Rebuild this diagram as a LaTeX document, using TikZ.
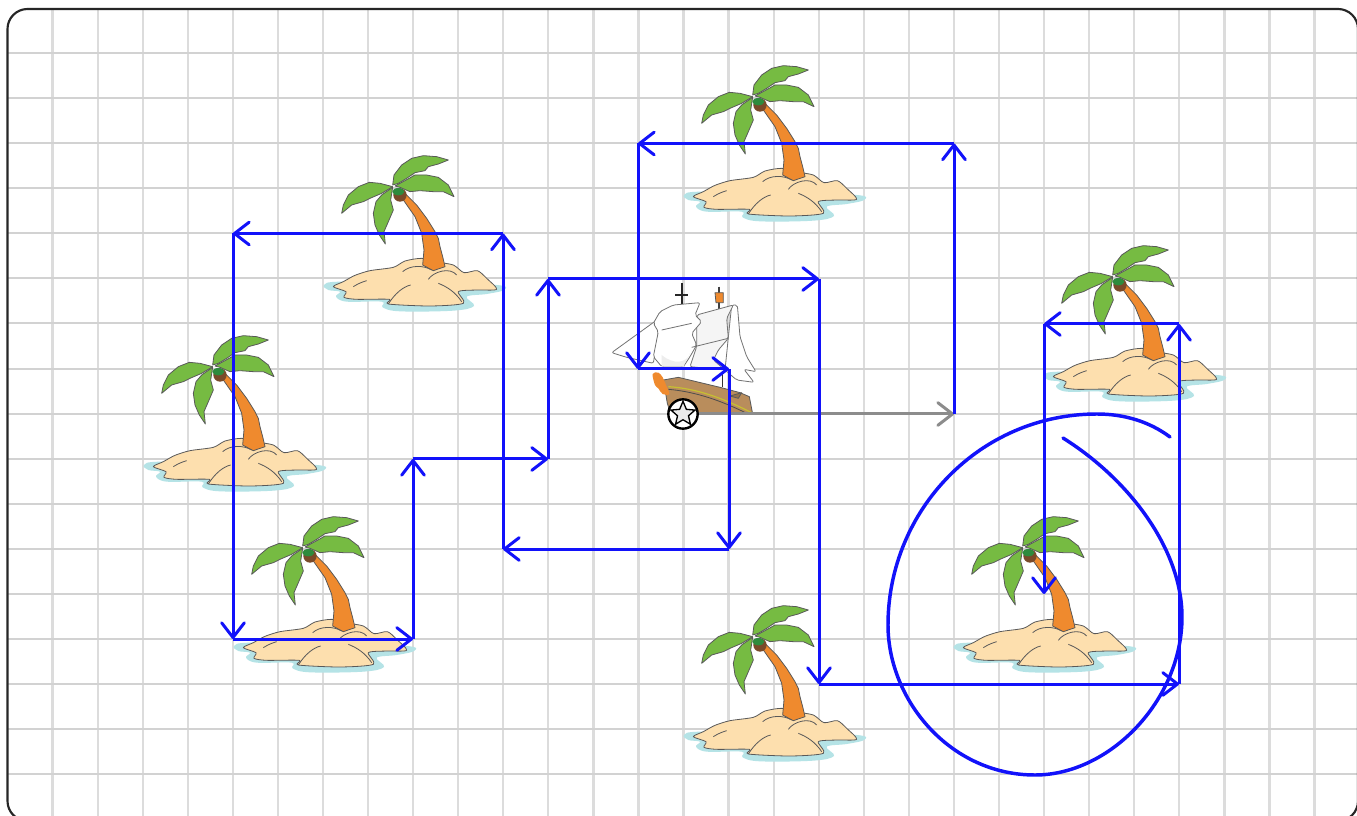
\documentclass[tikz,border=0pt]{standalone}
\usetikzlibrary{arrows.meta,shapes.geometric}
\definecolor{gridh}{HTML}{D2D2D2}
\definecolor{gridv}{HTML}{DCDCDC}
\definecolor{route}{HTML}{1212FA}
\definecolor{water}{HTML}{B5E3E6}
\definecolor{sand}{HTML}{FDDFAE}
\definecolor{bark}{HTML}{EF8A2E}
\definecolor{leaf}{HTML}{76BB42}
\definecolor{crown}{HTML}{2E8B3D}
\definecolor{nut}{HTML}{7A4A2A}
\definecolor{hull}{HTML}{B98D5C}
\tikzset{
  leg/.style={route,line width=2.25pt,-{Straight Barb[length=11pt,width=17pt,round]}},
  greyleg/.style={leg,draw=black!45},
  hand/.style={route,line width=2.6pt,line cap=round},
  inkline/.style={draw=black!65,line width=0.6pt,line join=round},
  sail/.style={inkline,draw=black!55,fill=white,rounded corners=1.5pt},
}
\newcommand{\island}[2]{%
\begin{scope}[shift={(#1,#2)},x=0.25pt,y=-0.25pt]
  \fill[water] plot[smooth cycle,tension=0.6] coordinates {(12,405) (60,395) (300,400) (530,405) (552,420) (500,432) (440,440) (462,468) (400,482) (240,484) (188,472) (185,455) (80,455) (48,440) (60,425) (25,420)};
  \draw[inkline,fill=sand] plot[smooth cycle,tension=0.45] coordinates {(40,410) (70,395) (105,376) (150,362) (220,352) (255,333) (305,325) (350,336) (400,345) (432,368) (472,362) (500,385) (530,418) (470,420) (415,425) (430,460) (330,468) (205,462) (208,448) (110,448) (72,442) (78,425)};
  \draw[inkline] (248,365) .. controls (270,345) and (310,345) .. (335,360);
  \draw[inkline] (325,388) .. controls (340,365) and (390,350) .. (410,375);
  \draw[inkline] (205,462) .. controls (225,430) and (250,410) .. (272,405);
  \draw[inkline] (355,400) .. controls (380,410) and (405,425) .. (425,455);
  \draw[inkline] (100,410) .. controls (115,400) and (130,395) .. (140,392);
  \draw[inkline,fill=bark] (255,130) -- (290,165) -- (320,205) -- (345,245) -- (355,265) -- (360,290) -- (368,320) -- (375,350) -- (340,362) -- (308,345) -- (312,300) -- (305,250) -- (285,200) -- (250,150) -- cycle;
  \fill[nut] (240,135) circle[radius=20];
  \draw[inkline,fill=leaf] (218,105) -- (222,75) -- (245,45) -- (275,25) -- (310,17) -- (350,20) -- (385,30) -- (355,42) -- (325,50) -- (315,62) -- (285,68) -- (260,85) -- (235,100) -- cycle;
  \draw[inkline,fill=leaf] (225,108) -- (262,88) -- (285,75) -- (320,75) -- (355,82) -- (385,105) -- (402,140) -- (370,125) -- (340,125) -- (300,122) -- (270,125) -- (240,112) -- cycle;
  \draw[inkline,fill=leaf] (218,110) -- (180,100) -- (148,97) -- (115,110) -- (85,135) -- (70,165) -- (65,190) -- (95,165) -- (130,155) -- (150,145) -- (185,130) -- cycle;
  \draw[inkline,fill=leaf] (218,112) -- (185,135) -- (168,155) -- (160,190) -- (165,225) -- (178,255) -- (196,282) -- (192,245) -- (205,215) -- (220,180) -- (212,150) -- cycle;
  \fill[crown] (235,125) ellipse[x radius=18,y radius=11];
\end{scope}}
\begin{document}
\begin{tikzpicture}[x=0.75pt,y=-0.75pt]
\useasboundingbox (0,0) rectangle (1357,816);
% sheet and grid
\fill[white] (0,0) rectangle (1357,816);
\begin{scope}
  \clip[rounded corners=15pt] (7.5,9) rectangle (1358,821);
  \foreach \k in {1,...,29} {\draw[gridv,line width=1.7pt] ({7.5+45.07*\k},0) -- ({7.5+45.07*\k},816);}
  \foreach \k in {1,...,17} {\draw[gridh,line width=1.5pt] (0,{8+45.07*\k}) -- (1357,{8+45.07*\k});}
\end{scope}
\draw[black!85,line width=1.6pt,rounded corners=15pt] (7.5,9) rectangle (1358,821);
% islands
\island{680}{60}
\island{320}{150}
\island{140}{330}
\island{230}{511}
\island{680}{600}
\island{1040}{240}
\island{950}{511}
% ship
\begin{scope}[shift={(590,270)},x=0.25pt,y=-0.25pt]
  \draw[black!85,line width=1.4pt] (275,40) -- (275,105) (255,75) -- (295,75);
  \draw[black!75,line width=1.4pt] (388,50) -- (388,130);
  \draw[inkline,fill=bark] (375,68) -- (400,68) -- (400,98) -- (378,98) -- cycle;
  \draw[black!80,line width=1pt] (397,310) -- (397,350);
  \draw[sail] (425,105) -- (442,105) -- (450,200) -- (470,260) -- (498,305) -- (462,298) -- (492,337) -- (440,330) -- (405,300) -- cycle;
  \draw[sail] (65,248) -- (235,125) -- (205,185) -- (190,280) -- (110,262) -- cycle;
  \draw[sail,fill=black!4] (320,135) -- (430,105) -- (410,145) -- (415,205) -- (385,240) -- (370,270) -- (405,300) -- (300,290) -- (320,230) -- cycle;
  \draw[sail] (190,160) -- (210,125) -- (250,105) -- (330,98) -- (315,135) -- (335,155) -- (305,190) -- (320,225) -- (300,260) -- (280,290) -- (215,290) -- (190,260) -- (205,185) -- cycle;
  \draw[inkline,draw=black!55] (215,180) -- (305,160) (305,232) -- (415,205);
  \fill[black!7] (215,255) .. controls (250,285) and (290,280) .. (300,250) -- (280,290) -- (215,290) -- cycle;
  \draw[inkline,fill=hull] (220,330) -- (265,322) -- (340,340) -- (390,352) -- (450,368) -- (478,380) -- (488,432) -- (242,432) -- (232,400) -- cycle;
  \draw[yellow!75!black,line width=0.9pt] (235,350) .. controls (320,355) and (400,385) .. (485,428);
  \draw[black!70,line width=0.6pt] (235,358) .. controls (320,365) and (400,395) .. (470,430);
  \draw[inkline,fill=hull!80!black] (420,378) -- (455,368) -- (445,385) -- cycle;
  \fill[bark] plot[smooth cycle,tension=0.6] coordinates {(188,312) (205,308) (218,322) (228,345) (238,372) (218,372) (205,355) (195,345)};
\end{scope}
\node[circle,draw=black,line width=1.8pt,fill=white,minimum size=22pt,inner sep=0pt] (wheel) at (683,414) {};
\node[star,star points=5,star point ratio=2.2,draw=black,line width=1pt,fill=black!8,minimum size=19pt,inner sep=0pt] (wheelstar) at (683,414) {};
% route way-points
\coordinate (p1) at (954,414);
\coordinate (p2) at (954,143.5);
\coordinate (p3) at (638,143.5);
\coordinate (p4) at (638,369);
\coordinate (p5) at (729,369);
\coordinate (p6) at (729,549);
\coordinate (p7) at (503,549);
\coordinate (p8) at (503,233.5);
\coordinate (p9) at (233,233.5);
\coordinate (p10) at (233,639);
\coordinate (p11) at (413,639);
\coordinate (p12) at (413,459);
\coordinate (p13) at (548,459);
\coordinate (p14) at (548,279);
\coordinate (p15) at (819,279);
\coordinate (p16) at (819,684);
\coordinate (p17) at (1179,684);
\coordinate (p18) at (1179,324);
\coordinate (p19) at (1044,324);
\coordinate (p20) at (1044,594);
\draw[greyleg] (wheel) -- (p1);
\foreach \a/\b in {p1/p2,p2/p3,p3/p4,p4/p5,p5/p6,p6/p7,p7/p8,p8/p9,p9/p10,p10/p11,p11/p12,p12/p13,p13/p14,p14/p15,p15/p16,p16/p17,p17/p18,p18/p19,p19/p20}
  {\draw[leg] (\a) -- (\b);}
% hand-drawn circle
\draw[hand] (1063,438) .. controls (1130,480) and (1182,550) .. (1182,617)
  .. controls (1182,700) and (1110,775) .. (1035,775)
  .. controls (950,775) and (888,700) .. (888,625)
  .. controls (888,510) and (980,414) .. (1097,414)
  .. controls (1125,414) and (1150,422) .. (1170,437);
\end{tikzpicture}
\end{document}
